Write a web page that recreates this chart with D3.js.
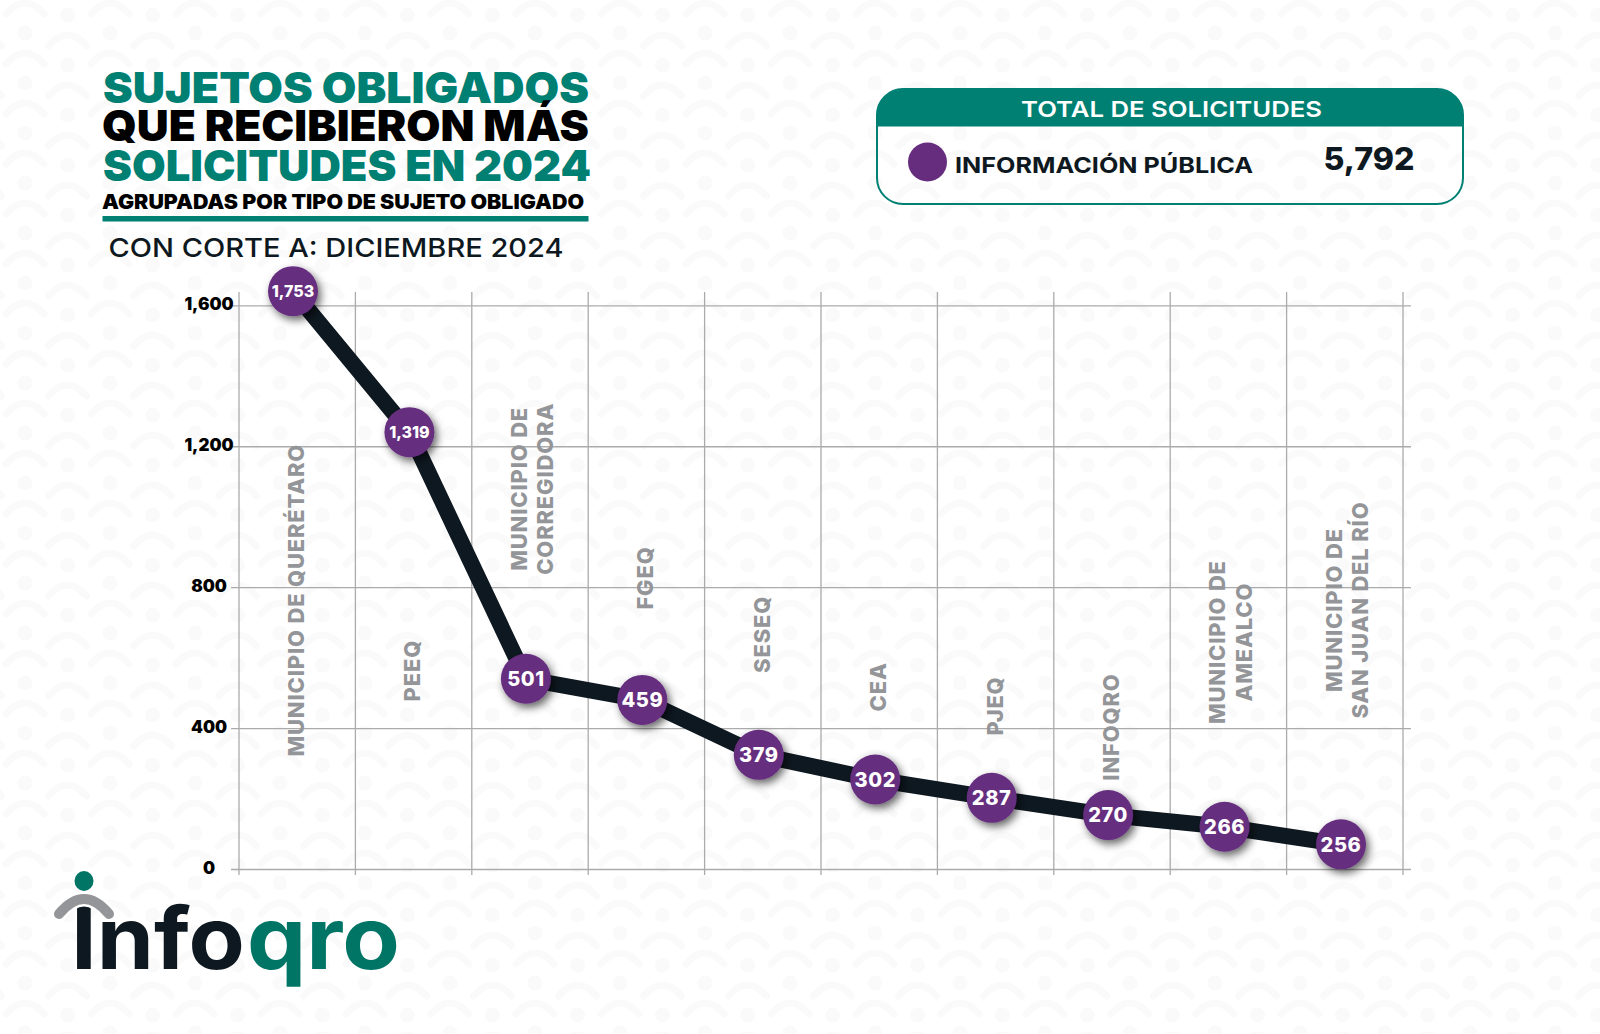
<!DOCTYPE html>
<html>
<head>
<meta charset="utf-8">
<script src="https://cdn.jsdelivr.net/npm/d3@7"></script>
<style>
  html, body { margin: 0; padding: 0; background: #fff; }
  svg { display: block; }
  text { font-family: Inter, "Noto Sans", sans-serif; }
</style>
</head>
<body>
<div id="container"></div>
<script>
const categories = ["MUNICIPIO DE QUERÉTARO", "PEEQ", "MUNICIPIO DE\nCORREGIDORA", "FGEQ", "SESEQ", "CEA", "PJEQ", "INFOQRO", "MUNICIPIO DE\nAMEALCO", "MUNICIPIO DE\nSAN JUAN DEL RÍO"];
// printed on the dots
const printedValues = [1753, 1319, 501, 459, 379, 302, 287, 270, 266, 256];
// where the dots really sit when read against the axis (the original does not follow its own labels)
const axisValues = [1640, 1240, 540, 480, 324, 254, 202, 153, 120, 70];
// height on the axis of the middle of each rotated category label
const labelHeights = [763, 563, 1079, 826, 666, 517, 463, 403, 644, 735];
const yTicks = [0, 400, 800, 1200, 1600];

const titleLines = [
  {text: "SUJETOS OBLIGADOS", color: "#007f73", y: 102.5, size: 43, x1: 103, x2: 589},
  {text: "QUE RECIBIERON MÁS", color: "#000000", y: 141, size: 43, x1: 102, x2: 589},
  {text: "SOLICITUDES EN 2024", color: "#007f73", y: 180.5, size: 43, x1: 103, x2: 591},
  {text: "AGRUPADAS POR TIPO DE SUJETO OBLIGADO", color: "#000000", y: 209, size: 20, x1: 102, x2: 584}
];

const teal = "#007f73", purple = "#662d7f", dark = "#0e1820", grey = "#939598", gridColor = "#ababab";
const w = 1600, h = 1034;

const svg = d3.select("#container").append("svg").attr("width", w).attr("height", h);

const defs = svg.append("defs");
defs.append("filter").attr("id", "dotShadow")
    .attr("x", "-40%").attr("y", "-40%").attr("width", "190%").attr("height", "190%")
    .append("feDropShadow")
    .attr("dx", 3).attr("dy", 4).attr("stdDeviation", 4)
    .attr("flood-color", "#000").attr("flood-opacity", 0.6);

// faint wallpaper of the logo figure
const person = defs.append("g").attr("id", "person");
person.append("circle").attr("r", 7.5).attr("fill", "#fafafa");
person.append("path").attr("d", "M-19,31 Q0,9 19,31")
      .attr("fill", "none").attr("stroke", "#fafafa").attr("stroke-width", 7).attr("stroke-linecap", "round");

const wall = svg.append("g");
for (let col = -1; col < 21; col++) {
  for (let row = -1; row < 23; row++) {
    wall.append("use").attr("href", "#person").attr("x", 25 + col * 85).attr("y", 33 + row * 50);
    wall.append("use").attr("href", "#person").attr("x", 67.5 + col * 85).attr("y", 15 + row * 50);
  }
}

// title block
titleLines.forEach(t => {
  svg.append("text").text(t.text)
     .attr("x", t.x1).attr("y", t.y)
     .attr("font-size", t.size).attr("font-weight", 900).attr("fill", t.color)
     .attr("textLength", t.x2 - t.x1).attr("lengthAdjust", "spacingAndGlyphs");
});
svg.append("rect").attr("x", 102.5).attr("y", 216).attr("width", 486).attr("height", 5.5).attr("fill", teal);
svg.append("text").text("CON CORTE A: DICIEMBRE 2024")
   .attr("x", 108.5).attr("y", 257).attr("font-size", 26).attr("font-weight", 500).attr("fill", dark)
   .attr("textLength", 455).attr("lengthAdjust", "spacingAndGlyphs");

// total box
const bx = 877, bxr = 1463, by = 89, byh = 126.5, byb = 204;
svg.append("path")
   .attr("d", `M${bx},${byh} V${by + 28} Q${bx},${by} ${bx + 32},${by} H${bxr - 32} Q${bxr},${by} ${bxr},${by + 28} V${byh} Z`)
   .attr("fill", teal);
svg.append("rect").attr("x", bx).attr("y", by).attr("width", bxr - bx).attr("height", byb - by).attr("rx", 26)
   .attr("fill", "none").attr("stroke", teal).attr("stroke-width", 2);
svg.append("text").text("TOTAL DE SOLICITUDES")
   .attr("x", 1021).attr("y", 117).attr("font-size", 22).attr("font-weight", 600).attr("fill", "#fff")
   .attr("textLength", 301).attr("lengthAdjust", "spacingAndGlyphs");
svg.append("circle").attr("cx", 927.5).attr("cy", 162).attr("r", 19.5).attr("fill", purple);
svg.append("text").text("INFORMACIÓN PÚBLICA")
   .attr("x", 955).attr("y", 172.5).attr("font-size", 22).attr("font-weight", 700).attr("fill", dark)
   .attr("textLength", 298).attr("lengthAdjust", "spacingAndGlyphs");
svg.append("text").text("5,792")
   .attr("x", 1323.5).attr("y", 170).attr("font-size", 31).attr("font-weight", 800).attr("fill", dark)
   .attr("textLength", 91).attr("lengthAdjust", "spacingAndGlyphs");

// scales
const xBand = d3.scaleBand().domain(categories).range([239, 1403]);
const x = d3.scalePoint().domain(categories).range([293, 1341]);
const y = d3.scaleLinear().domain([0, 1600]).range([869, 305.3]);

// vertical grid
svg.append("g").selectAll("line")
   .data(d3.range(categories.length + 1))
   .enter().append("line")
   .attr("x1", d => xBand.range()[0] + d * xBand.step())
   .attr("x2", d => xBand.range()[0] + d * xBand.step())
   .attr("y1", 292).attr("y2", 875)
   .attr("stroke", gridColor).attr("stroke-width", 1.3);

// y axis and horizontal grid
const yAxis = d3.axisLeft(y).tickValues(yTicks).tickFormat(d3.format(",")).tickSize(-1172);
const gy = svg.append("g").attr("transform", "translate(239,0)").call(yAxis);
gy.select(".domain").remove();
gy.selectAll(".tick line").attr("x1", -8).attr("stroke", gridColor).attr("stroke-width", 1.3);
gy.selectAll(".tick text")
  .attr("x", -30).attr("dy", "0.25em").attr("text-anchor", "middle")
  .attr("font-family", "Inter").attr("font-size", 17).attr("font-weight", 900).attr("fill", "#000");

// rotated category labels
svg.append("g").selectAll("text")
   .data(categories)
   .enter().append("text")
   .attr("transform", (d, i) => `translate(${x(d) + (d.includes("\n") ? 14 : 11)},${y(labelHeights[i])}) rotate(-90)`)
   .attr("text-anchor", "middle").attr("font-size", 22).attr("font-weight", 800).attr("fill", grey)
   .attr("letter-spacing", 0.8)
   .each(function (d) {
     const parts = d.split("\n");
     d3.select(this).selectAll("tspan")
       .data(parts)
       .enter().append("tspan")
       .attr("x", 0)
       .attr("y", (p, j) => (j - (parts.length - 1) / 2) * 26.7)
       .text(p => p);
   });

// line
const line = d3.line().x((d, i) => x(categories[i])).y(d => y(d));
svg.append("path").datum(axisValues)
   .attr("d", line).attr("fill", "none").attr("stroke", dark).attr("stroke-width", 16);

// dots and their printed values
svg.append("g").selectAll("circle")
   .data(axisValues)
   .enter().append("circle")
   .attr("cx", (d, i) => x(categories[i])).attr("cy", d => y(d)).attr("r", 25)
   .attr("fill", purple).attr("filter", "url(#dotShadow)");
svg.append("g").selectAll("text")
   .data(printedValues)
   .enter().append("text")
   .attr("x", (d, i) => x(categories[i])).attr("y", (d, i) => y(axisValues[i]))
   .attr("dy", "0.36em").attr("text-anchor", "middle")
   .attr("font-size", d => d >= 1000 ? 16 : 20).attr("font-weight", 800).attr("fill", "#fff")
   .attr("letter-spacing", d => d >= 1000 ? 0 : 0.6)
   .text(d => d3.format(",")(d));

// logo
svg.append("text").text("Info")
   .attr("x", 71).attr("y", 968.5).attr("font-size", 86).attr("font-weight", 700).attr("fill", dark)
   .attr("textLength", 174).attr("lengthAdjust", "spacingAndGlyphs");
svg.append("text").text("qro")
   .attr("x", 247).attr("y", 968.5).attr("font-size", 86).attr("font-weight", 700).attr("fill", "#007566")
   .attr("textLength", 153).attr("lengthAdjust", "spacingAndGlyphs");
svg.append("path").attr("d", "M59,914 Q84,884 109,914")
   .attr("fill", "none").attr("stroke", "#fff").attr("stroke-width", 15).attr("stroke-linecap", "round");
svg.append("path").attr("d", "M59,914 Q84,884 109,914")
   .attr("fill", "none").attr("stroke", "#939598").attr("stroke-width", 10).attr("stroke-linecap", "round");
svg.append("ellipse").attr("cx", 84).attr("cy", 881).attr("rx", 9.5).attr("ry", 10).attr("fill", "#007566");
</script>
</body>
</html>
